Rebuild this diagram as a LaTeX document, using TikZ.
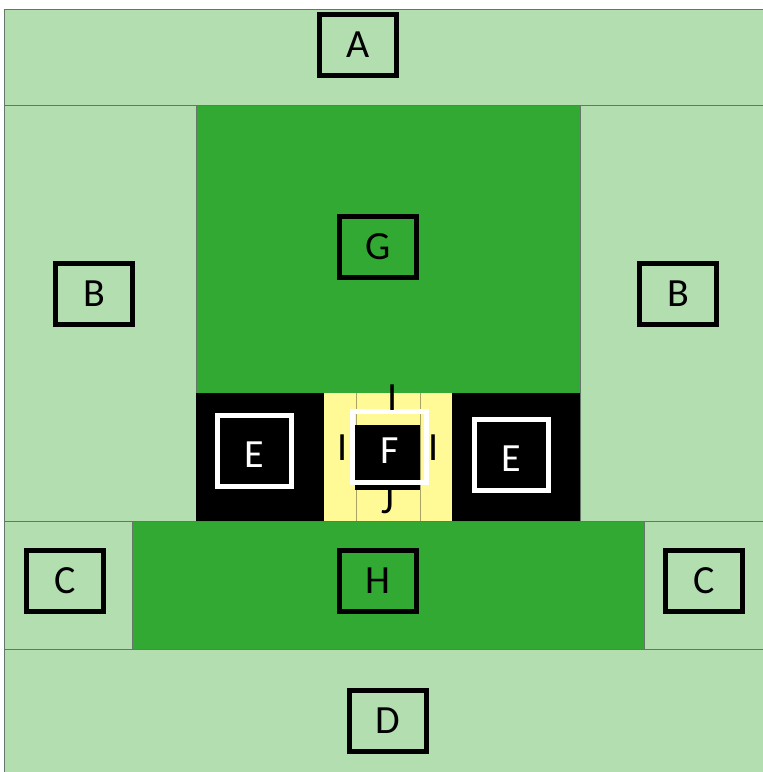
\documentclass[tikz,border=0pt]{standalone}
\usepackage{fontspec}
\setmainfont{Carlito}
\definecolor{lgreen}{HTML}{B2DEB0}
\definecolor{dgreen}{HTML}{32A932}
\definecolor{lyellow}{HTML}{FFFA96}
\definecolor{edgegray}{HTML}{64786A}
\definecolor{olive}{HTML}{A8A464}
\tikzset{
  region/.style={draw=edgegray, line width=0.8pt},
  lbl/.style={draw=black, line width=5pt, minimum width=77pt, minimum height=61pt, inner sep=0pt, font=\fontsize{40}{40}\selectfont},
  wlbl/.style={draw=white, text=white, line width=5pt, minimum width=74pt, minimum height=71pt, inner sep=0pt, text height=33pt, text depth=0pt, font=\fontsize{40}{40}\selectfont},
  txt/.style={inner sep=0pt, font=\fontsize{40}{40}\selectfont},
}
\begin{document}
\begin{tikzpicture}[x=1pt, y=-1pt]
\useasboundingbox (0,0) rectangle (763,772);
% regions
\path[region, fill=lgreen] (4,9) rectangle (770,105);
\path[region, fill=lgreen] (4,105) rectangle (196,521);
\path[region, fill=lgreen] (580,105) rectangle (770,521);
\path[region, fill=dgreen] (196,105) rectangle (580,393);
\fill[black] (196,393) rectangle (580,521);
\fill[lyellow] (324,393) rectangle (452,521);
\draw[olive, line width=1pt] (356,393) -- (356,521);
\draw[olive, line width=1pt] (420,393) -- (420,521);
\fill[black] (355,425) rectangle (420,490);
\path[region, fill=lgreen] (4,521) rectangle (132,649);
\path[region, fill=dgreen] (132,521) rectangle (644,649);
\path[region, fill=lgreen] (644,521) rectangle (770,649);
\path[region, fill=lgreen] (4,649) rectangle (770,780);
% labels
\node[lbl] (A) at (358,45) {A};
\node[lbl] (Bl) at (94,294) {B};
\node[lbl] (Br) at (678,294) {B};
\node[lbl] (G) at (378,247) {G};
\node[lbl] (Cl) at (65,581) {C};
\node[lbl] (Cr) at (704,581) {C};
\node[lbl] (H) at (378,581) {H};
\node[lbl] (D) at (388,721) {D};
\node[wlbl] (El) at (254.5,451) {E};
\node[wlbl] (Er) at (511.5,455) {E};
\node[wlbl] (F) at (389.5,447) {F};
\node[txt] (It) at (393,398) {I};
\node[txt] (Il) at (343,448) {I};
\node[txt] (Ir) at (434,448) {I};
\node[txt] (J) at (388,501) {J};
\end{tikzpicture}
\end{document}
